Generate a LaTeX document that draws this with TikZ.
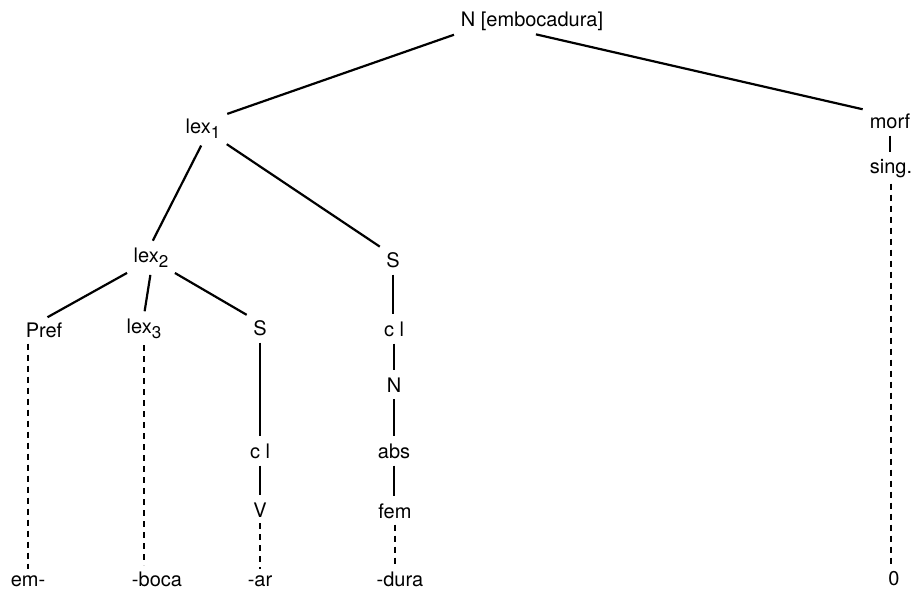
\documentclass[tikz,border=0pt]{standalone}
\usepackage{fontspec}
\setmainfont{TeX Gyre Heros}

\newcommand{\lexn}[1]{lex\raisebox{-0.55ex}{\fontsize{17}{17}\selectfont #1}}

\tikzset{
  lbl/.style={font=\fontsize{20}{24}\selectfont, inner sep=3pt, anchor=base},
  branch/.style={line width=2.2pt, shorten <=4pt, shorten >=4pt},
  assoc/.style={line width=2pt, dash pattern=on 6pt off 5pt, shorten <=3pt, shorten >=3pt}
}

\begin{document}
\begin{tikzpicture}[x=1pt, y=-1pt]

  \useasboundingbox (0,0) rectangle (917,592);

  % Root
  \node[lbl] (root) at (532,26) {N [embocadura]};

  % First level
  \node[lbl] (lexA) at (203,133) {\lexn{1}};
  \node[lbl] (morf) at (890,128) {morf};
  \node[lbl] (sing) at (891,173) {sing.};

  % Second level
  \node[lbl] (lexB) at (151,262) {\lexn{2}};
  \node[lbl] (sR) at (393,267) {S};

  % Third level
  \node[lbl] (pref) at (44,337) {Pref};
  \node[lbl] (lexC) at (144,333) {\lexn{3}};
  \node[lbl] (sL) at (260,335) {S};
  \node[lbl] (clR) at (394,336) {c l};
  \node[lbl] (nR) at (394,392) {N};

  % Features
  \node[lbl] (clL) at (260,458) {c l};
  \node[lbl] (abs) at (394,458) {abs};
  \node[lbl] (vL) at (260,517) {V};
  \node[lbl] (fem) at (395,518) {fem};

  % Forms
  \node[lbl] (em) at (28,586) {em-};
  \node[lbl] (boca) at (157,586) {-boca};
  \node[lbl] (ar) at (260,586) {-ar};
  \node[lbl] (dura) at (400,586) {-dura};
  \node[lbl] (zero) at (894,585) {0};

  % Tree branches
  \draw[branch] (root.south west) -- (lexA.north east);
  \draw[branch] (root.south) -- (morf.north west);
  \draw[branch] (lexA.south) -- (lexB.north);
  \draw[branch] (lexA.south east) -- (sR.north west);
  \draw[branch] (lexB.south west) -- (pref.north);
  \draw[branch] (lexB.south) -- (lexC.north);
  \draw[branch] (lexB.south east) -- (sL.north west);

  % Vertical chains
  \foreach \a/\b in {sR/clR, clR/nR, nR/abs, abs/fem, sL/clL, clL/vL, morf/sing}
    \draw[branch] (\a.south) -- (\a.south |- \b.north);

  % Dashed links to the forms
  \foreach \a/\b in {fem/dura, vL/ar, sing/zero, lexC/boca}
    \draw[assoc] (\a.south) -- (\a.south |- \b.north);
  \draw[assoc] (pref.south -| em.north) -- (em.north);

\end{tikzpicture}
\end{document}
